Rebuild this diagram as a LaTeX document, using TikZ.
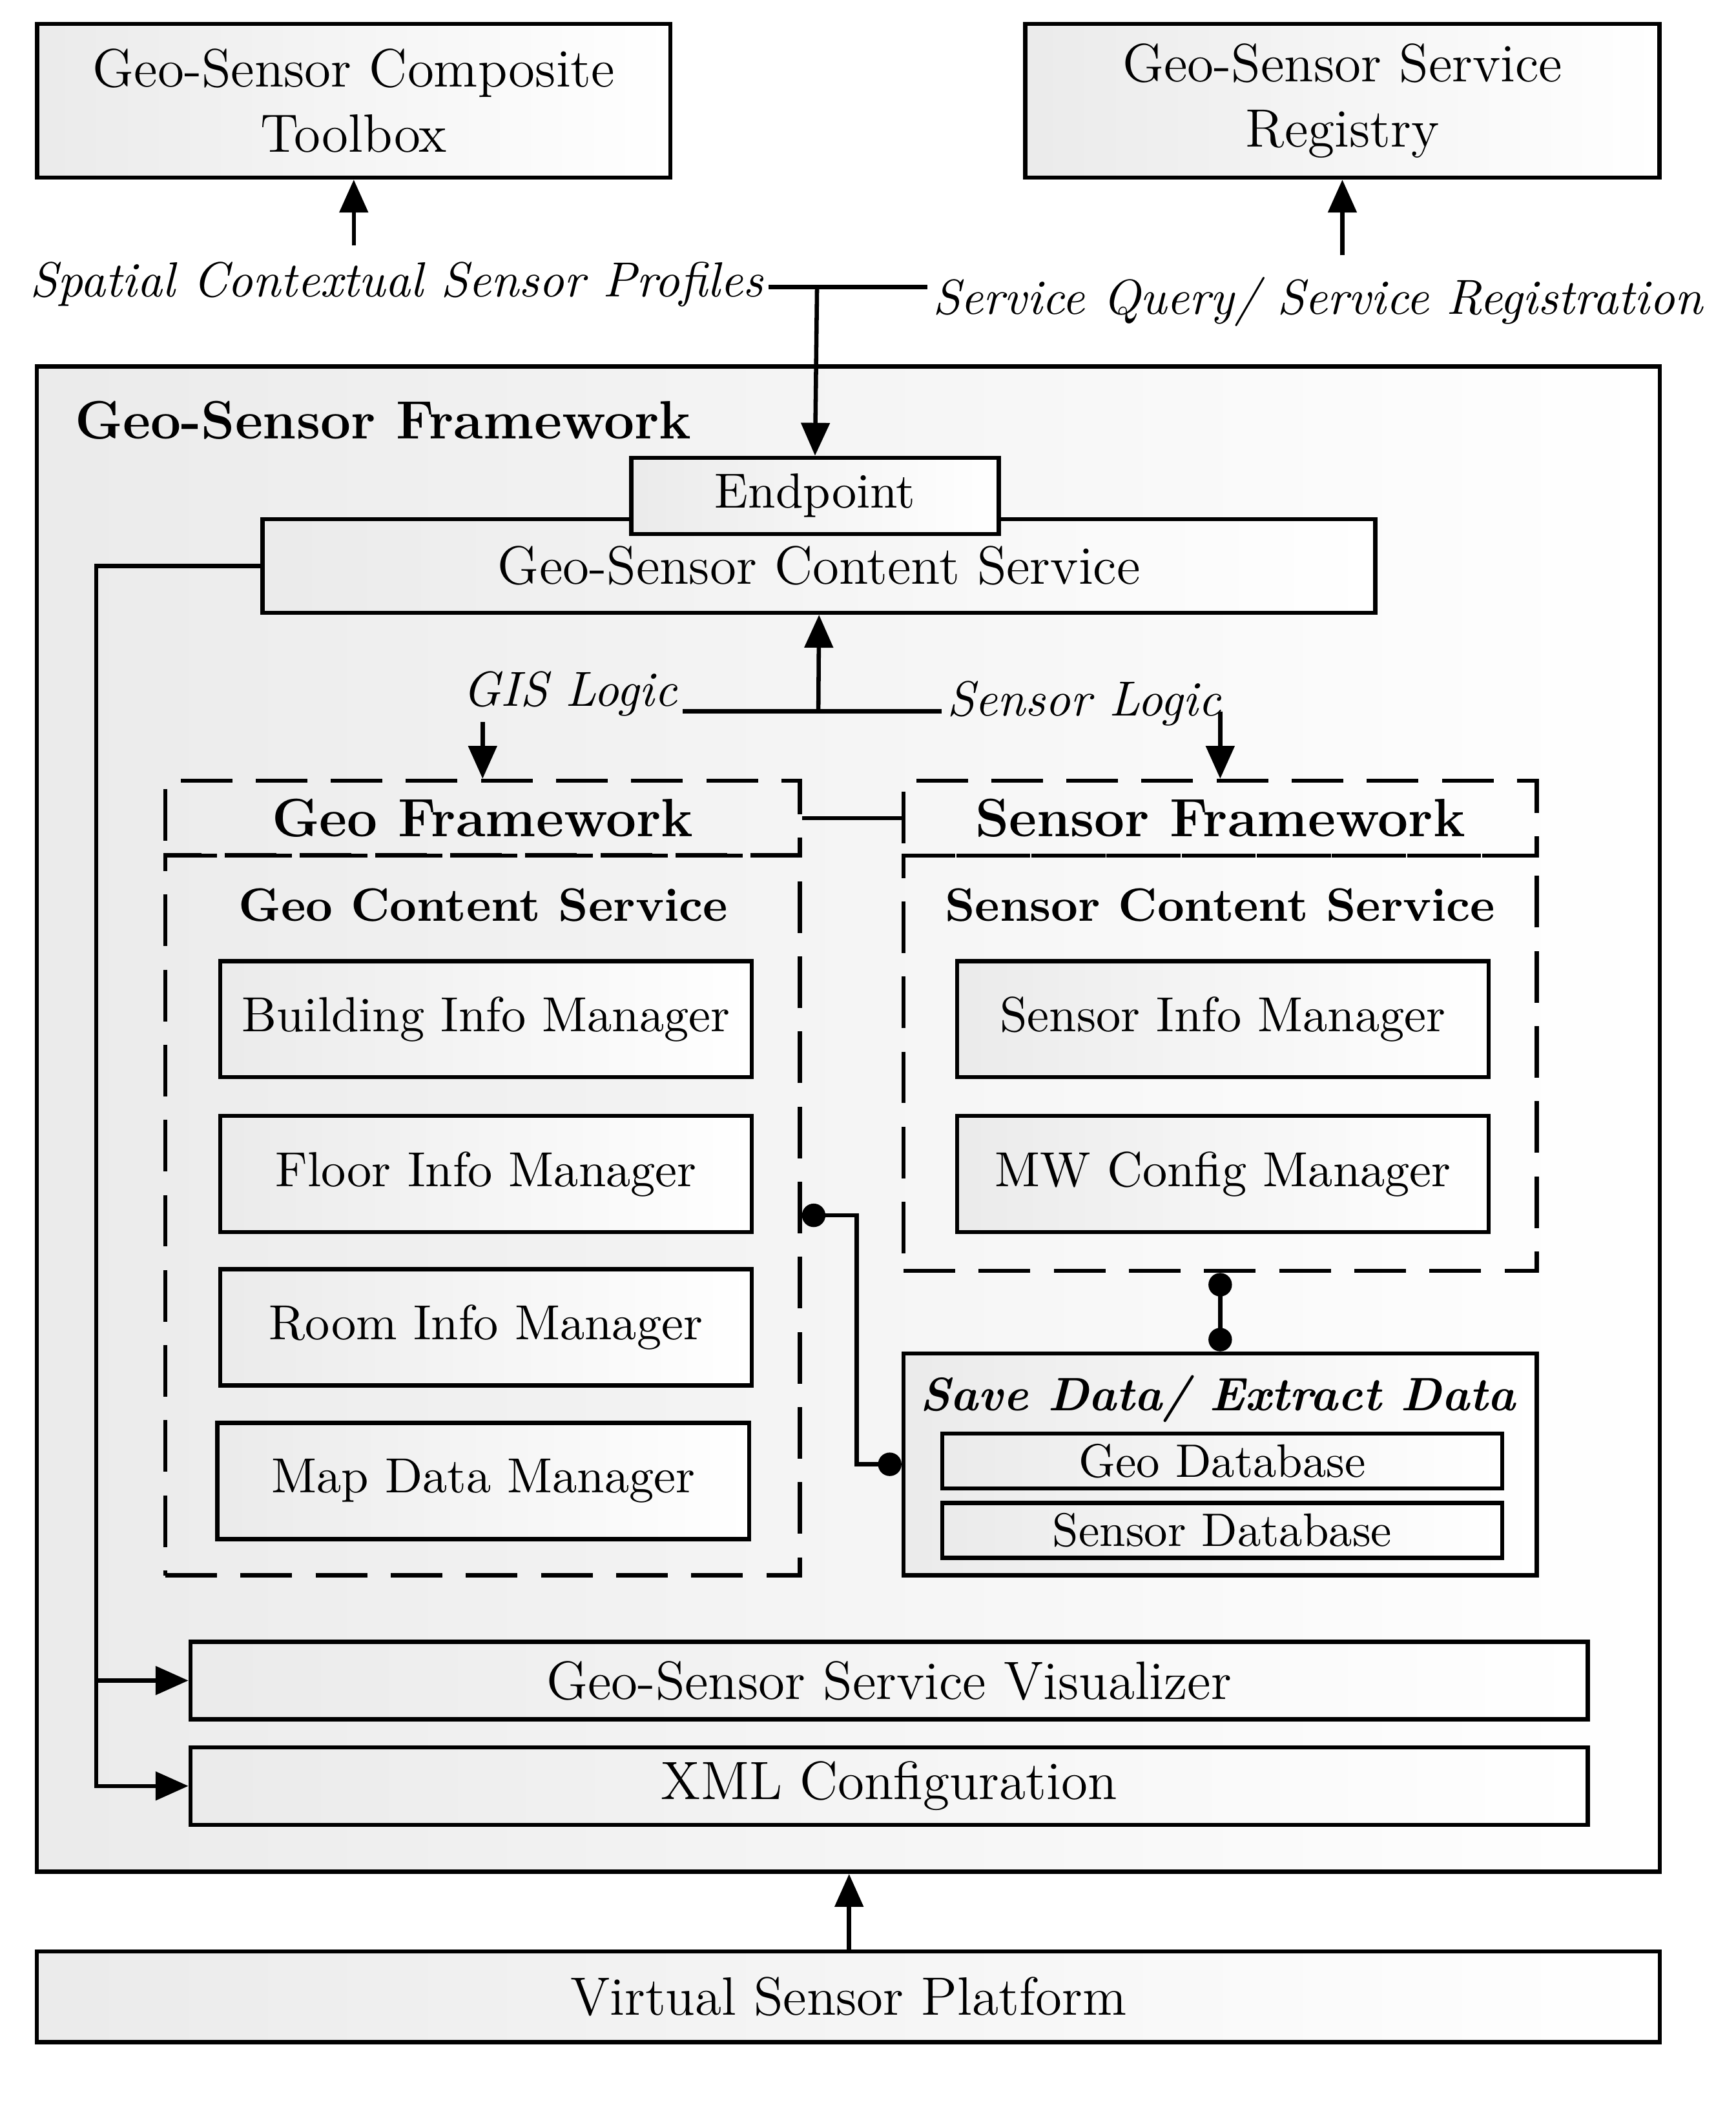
\documentclass[tikz,border=0pt]{standalone}
\usepackage{tikz}
\usetikzlibrary{arrows.meta}

\begin{document}
\begin{tikzpicture}[x=0.01cm,y=-0.01cm]
\tikzset{
  box/.style={draw, line width=0.9pt, inner sep=0pt, left color=black!8, right color=white, align=center},
  dbox/.style={draw, line width=0.9pt, dash pattern=on 11pt off 5pt, inner sep=0pt},
  lbl/.style={inner sep=1pt, font=\fontsize{10.5}{12}\selectfont\itshape},
  arr/.style={line width=0.9pt, -{Triangle[length=7pt,width=6pt]}},
  con/.style={line width=0.9pt},
  dot/.style={line width=0.9pt, {Circle[length=5pt]}-{Circle[length=5pt]}}
}
\useasboundingbox (0,0) rectangle (1300,1580);
% top boxes
\node[box, minimum width=4.74cm, minimum height=1.15cm, font=\fontsize{11.5}{14}\selectfont] (toolbox) at (265,75.5) {Geo-Sensor Composite\\Toolbox};
\node[box, minimum width=4.75cm, minimum height=1.15cm, font=\fontsize{11.5}{14}\selectfont] (registry) at (1005.5,75.5) {Geo-Sensor Service\\Registry};
\node[lbl] (profiles) at (297,213) {Spatial Contextual Sensor Profiles};
\node[lbl] (query) at (987,226) {Service Query/ Service Registration};
% framework
\node[box, minimum width=12.15cm, minimum height=11.27cm] (frame) at (635.5,838.5) {};
\node[font=\fontsize{11.5}{14}\selectfont\bfseries, anchor=west] (ftitle) at (44,315) {Geo-Sensor Framework};
\node[box, minimum width=8.33cm, minimum height=0.70cm, font=\fontsize{11.5}{14}\selectfont] (content) at (613.5,424) {Geo-Sensor Content Service};
\node[box, minimum width=2.75cm, minimum height=0.57cm, font=\fontsize{10.5}{12}\selectfont] (endpoint) at (610.5,371.5) {Endpoint};
\coordinate (split) at (612,215);
\draw[con] (profiles.east |- split) -- (split -| query.west);
\draw[arr] (split) -- (endpoint.north);
\draw[arr] (profiles.north -| toolbox) ++(0,-8) -- (toolbox.south);
\draw[arr] (query.north -| registry) ++(0,-12) -- (registry.south);
% logic
\node[lbl] (gis) at (427,520) {GIS Logic};
\node[lbl] (slogic) at (812,527) {Sensor Logic};
\coordinate (junc) at (613,533);
\draw[arr] (junc) -- (content.south);
\draw[con] (gis.east |- junc) -- (slogic.west |- junc);
% sub frameworks
\node[dbox, minimum width=4.75cm, minimum height=0.56cm] (geohead) at (361.5,613) {};
\node[dbox, minimum width=4.75cm, minimum height=5.39cm] (geobody) at (361.5,910.5) {};
\node[dbox, minimum width=4.74cm, minimum height=0.56cm] (senhead) at (914,613) {};
\node[dbox, minimum width=4.74cm, minimum height=3.11cm] (senbody) at (914,796.5) {};
\node[font=\fontsize{11.5}{14}\selectfont\bfseries] at (geohead) {Geo Framework};
\node[font=\fontsize{11.5}{14}\selectfont\bfseries] at (senhead) {Sensor Framework};
\node[font=\fontsize{10}{12}\selectfont\bfseries] at (362,678) {Geo Content Service};
\node[font=\fontsize{10}{12}\selectfont\bfseries] at (914,678) {Sensor Content Service};
\draw[con] (geohead.east) -- (senhead.west);
\draw[arr] (gis.south -| geohead) -- (geohead.north);
\draw[arr] (junc -| senhead) -- (senhead.north);
% managers
\tikzset{mgr/.style={box, minimum width=3.98cm, minimum height=0.87cm, font=\fontsize{10.5}{12}\selectfont}}
\node[mgr] (bim) at (364,763.5) {Building Info Manager};
\node[mgr] (fim) at (364,879.5) {Floor Info Manager};
\node[mgr] (rim) at (364,994.5) {Room Info Manager};
\node[mgr] (mdm) at (362,1109.5) {Map Data Manager};
\node[mgr] (sim) at (916,763.5) {Sensor Info Manager};
\node[mgr] (mwc) at (916,879.5) {MW Config Manager};
% database
\node[box, minimum width=4.74cm, minimum height=1.66cm] (db) at (914,1097) {};
\node[font=\fontsize{10}{12}\selectfont\bfseries\itshape] at (912,1048) {Save Data/ Extract Data};
\node[box, minimum width=4.19cm, minimum height=0.41cm, font=\fontsize{10}{12}\selectfont] (geodb) at (915.5,1094.5) {Geo Database};
\node[box, minimum width=4.19cm, minimum height=0.41cm, font=\fontsize{10}{12}\selectfont] (sendb) at (915.5,1146.5) {Sensor Database};
\draw[dot] (geobody.east) -- ++(41,0) |- (db.west);
\draw[dot] (senbody.south) -- (db.north);
% bottom
\node[box, minimum width=10.46cm, minimum height=0.58cm, font=\fontsize{11.5}{14}\selectfont] (vis) at (666,1259) {Geo-Sensor Service Visualizer};
\node[box, minimum width=10.46cm, minimum height=0.58cm, font=\fontsize{11.5}{14}\selectfont] (xml) at (666,1338) {XML Configuration};
\coordinate (bus) at (72,1338);
\draw[arr] (content.west) -| (bus) -- (xml.west);
\draw[arr] (bus |- vis.west) -- (vis.west);
\node[box, minimum width=12.15cm, minimum height=0.68cm, font=\fontsize{11.5}{14}\selectfont] (vsp) at (635.5,1496) {Virtual Sensor Platform};
\draw[arr] (vsp.north -| 636,0) -- (frame.south -| 636,0);
\end{tikzpicture}
\end{document}
